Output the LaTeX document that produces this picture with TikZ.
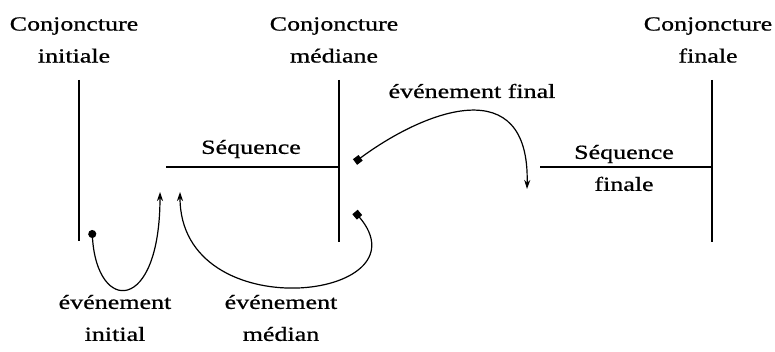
\documentclass[tikz,border=0pt]{standalone}
\usepackage{fontspec}
\setmainfont{Liberation Serif}[FakeStretch=1.3, FakeBold=0.8]
\usepackage{tikz}
\usetikzlibrary{arrows.meta}

\begin{document}
\begin{tikzpicture}[x=1pt, y=-1pt,
    bar/.style={line width=1.8pt},
    event/.style={line width=1.2pt},
    lbl/.style={align=center, font=\fontsize{20}{32}\selectfont, inner sep=0pt}]
    \useasboundingbox (0,0) rectangle (775,352);

    % Define the points
    \coordinate (Itop) at (79,80);
    \coordinate (Ibot) at (79,241);
    \coordinate (Mtop) at (339,80);
    \coordinate (Mbot) at (339,242);
    \coordinate (Mseq) at (339,167);
    \coordinate (Ftop) at (712,80);
    \coordinate (Fbot) at (712,242);
    \coordinate (Fseq) at (712,167);
    \coordinate (S1) at (166,167);
    \coordinate (S2) at (540,167);

    % Draw the conjunctures and the sequences
    \draw[bar] (Itop) -- (Ibot);
    \draw[bar] (Mtop) -- (Mbot);
    \draw[bar] (Ftop) -- (Fbot);
    \draw[bar] (S1) -- (Mseq);
    \draw[bar] (S2) -- (Fseq);

    % Event points
    \coordinate (Ei) at (92,230);
    \coordinate (Ai) at (160,192);
    \coordinate (Em) at (355,212);
    \coordinate (Am) at (180,192);
    \coordinate (Ef) at (355,162);
    \coordinate (Af) at (527,189);

    % Draw the events
    \draw[event, {Circle[length=8pt]}-{Stealth[length=9pt,width=6pt]}] (Ei) .. controls (97,314) and (160,314) .. (Ai);
    \draw[event, {Square[length=7pt,width=7pt]}-{Stealth[length=9pt,width=6pt]}] (Em) .. controls (430,300) and (180,330) .. (Am);
    \draw[event, {Square[length=7pt,width=7pt]}-{Stealth[length=9pt,width=6pt]}] (Ef) .. controls (425,110) and (530,70) .. (Af);

    % Label the conjunctures
    \node[lbl] (cinit) at (74,40) {Conjoncture\\initiale};
    \node[lbl] (cmed) at (334,40) {Conjoncture\\médiane};
    \node[lbl] (cfin) at (708,40) {Conjoncture\\finale};

    % Label the sequences
    \node[lbl] (seq) at (251,149) {Séquence};
    \node[lbl] (seqf) at (624,168) {Séquence\\finale};

    % Label the events
    \node[lbl] (evf) at (472,91) {événement final};
    \node[lbl] (evi) at (115,318) {événement\\initial};
    \node[lbl] (evm) at (281,318) {événement\\médian};
\end{tikzpicture}
\end{document}
